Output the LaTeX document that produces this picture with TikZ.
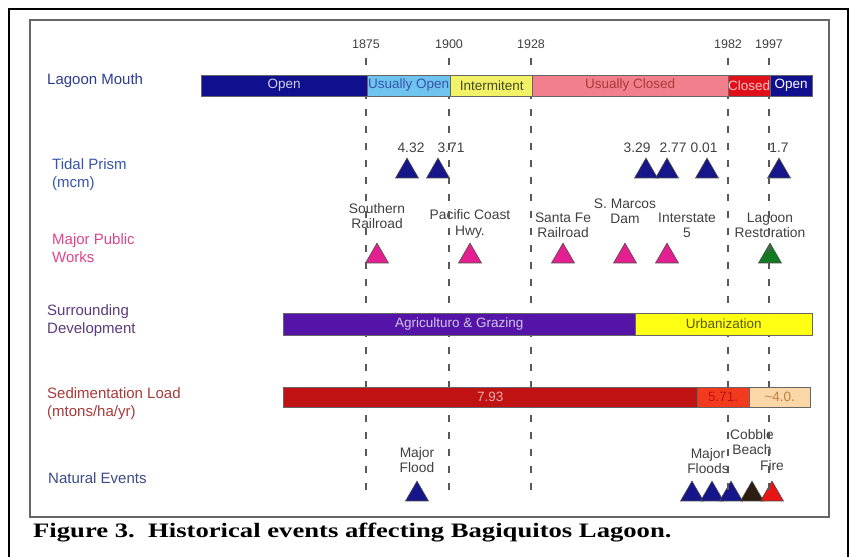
\documentclass[tikz,border=0pt]{standalone}
\usepackage{fontspec}
\setmainfont{Liberation Sans}
\newfontfamily\capfont[FakeStretch=1.3]{Liberation Serif}
\usepackage{tikz}
\usetikzlibrary{shapes}
\usetikzlibrary{arrows,positioning}
\definecolor{lagc}{HTML}{2C3E8C}
\definecolor{tidc}{HTML}{3556AA}
\definecolor{wrkc}{HTML}{E0448E}
\definecolor{surc}{HTML}{5B3C7E}
\definecolor{sedc}{HTML}{A83A3A}
\definecolor{natc}{HTML}{3B4A88}
\definecolor{navyb}{HTML}{10108E}
\definecolor{skyb}{HTML}{6EC3EF}
\definecolor{yelb}{HTML}{F2F266}
\definecolor{pinkb}{HTML}{F47F8C}
\definecolor{redb}{HTML}{E0101A}
\definecolor{purpb}{HTML}{5414A8}
\definecolor{urbb}{HTML}{FFFF14}
\definecolor{sedr}{HTML}{C01212}
\definecolor{sedo}{HTML}{F23A1E}
\definecolor{peach}{HTML}{FBD6A6}
\definecolor{tnavy}{HTML}{16168A}
\definecolor{tpink}{HTML}{E42090}
\definecolor{tgreen}{HTML}{127A22}
\definecolor{tbrown}{HTML}{2C1E10}
\definecolor{tred}{HTML}{E61414}
\tikzstyle{yr}=[font=\fontsize{12.5}{14}\selectfont, text=black!75, inner sep=1pt]
\tikzstyle{row}=[anchor=west, align=left, font=\fontsize{15}{18}\selectfont, inner sep=0pt]
\tikzstyle{bar}=[draw=black!60, anchor=west, inner xsep=0pt, inner ysep=0pt, minimum height=21pt, font=\fontsize{13.5}{15}\selectfont]
\tikzstyle{tri}=[regular polygon, regular polygon sides=3, minimum size=26.5pt, inner sep=0pt, outer sep=0pt, anchor=south, draw=black!70, line width=0.6pt]
\tikzstyle{lbl}=[align=center, font=\fontsize{13.8}{15.5}\selectfont, text=black!75, inner sep=1pt]
\tikzstyle{gl}=[dash pattern=on 7pt off 10pt, line width=1.3pt, draw=black!65]

\begin{document}
\begin{tikzpicture}
[x=1pt, y=1pt, node distance=6pt]
\useasboundingbox (0,0) rectangle (849,557);
\draw[line width=2pt] (9,-5) rectangle (848,548);
\draw[fill=white, draw=black!60, line width=1.2pt] (30,40) rectangle (829,537);

% row titles
\node[row, text=lagc] (mouth) at (47,476) {Lagoon Mouth};
\node[row, text=tidc] (tidal) at (52,382) {Tidal Prism\\(mcm)};
\node[row, text=wrkc] (works) at (52,309) {Major Public\\Works};
\node[row, text=surc] (surr) at (47,236) {Surrounding\\Development};
\node[row, text=sedc] (sed) at (47,153) {Sedimentation Load\\(mtons/ha/yr)};
\node[row, text=natc] (nat) at (48,79) {Natural Events};

% years
\coordinate (top) at (0,499);
\coordinate (bot) at (0,57);
\foreach \yr/\xx in {1875/366, 1900/449, 1928/531, 1982/728, 1997/769}
  \node[yr] (y\yr) at (\xx,513) {\yr};

% tidal prism
\node[tri, fill=tnavy] (t1) at (407,379) {};
\node[tri, fill=tnavy] (t2) at (438,379) {};
\node[tri, fill=tnavy] (t3) at (646,379) {};
\node[tri, fill=tnavy] (t4) at (667,379) {};
\node[tri, fill=tnavy] (t5) at (707,379) {};
\node[tri, fill=tnavy] (t6) at (779,379) {};
\node[lbl, above=4pt of t1, xshift=4pt] {4.32};
\node[lbl, above=4pt of t2, xshift=13pt] {3.71};
\node[lbl, above=4pt of t3, xshift=-9pt] {3.29};
\node[lbl, above=4pt of t4, xshift=6pt] {2.77};
\node[lbl, above=4pt of t5, xshift=-3pt] {0.01};
\node[lbl, above=4pt of t6] {1.7};

% public works
\node[tri, fill=tpink] (w1) at (377,294) {};
\node[tri, fill=tpink] (w2) at (470,294) {};
\node[tri, fill=tpink] (w3) at (563,294) {};
\node[tri, fill=tpink] (w4) at (625,294) {};
\node[tri, fill=tpink] (w5) at (667,294) {};
\node[tri, fill=tgreen] (w6) at (770,294) {};
\node[lbl, above=13pt of w1] {Southern\\Railroad};
\node[lbl, above=4pt of w2] {Pacific Coast\\Hwy.};
\node[lbl, above=4pt of w3] {Santa Fe\\Railroad};
\node[lbl, above=18pt of w4] {S. Marcos\\Dam};
\node[lbl, above=4pt of w5, xshift=20pt] {Interstate\\5};
\node[lbl, above=4pt of w6] {Lagoon\\Restoration};

% natural events
\node[tri, fill=tnavy] (n1) at (417,56) {};
\node[tri, fill=tnavy] (n2) at (692,56) {};
\node[tri, fill=tnavy] (n3) at (712,56) {};
\node[tri, fill=tnavy] (n4) at (731,56) {};
\node[tri, fill=tbrown] (n5) at (752,56) {};
\node[tri, fill=tred] (n6) at (772,56) {};
\node[lbl, above=7pt of n1] {Major\\Flood};
\node[lbl, above=6pt of n3, xshift=-4pt] {Major\\Floods};
\node[lbl, above=25pt of n5] {Cobble\\Beach};
\node[lbl, above=9pt of n6] {Fire};

% year guides
\foreach \yr in {1875,1900,1928,1982,1997}
  \draw[gl] (y\yr |- top) -- (y\yr |- bot);

% lagoon mouth
\node[bar, fill=navyb, text=navyb!20!white, minimum width=166pt] (m1) at (201,471.5) {Open};
\node[bar, fill=skyb, text=tidc, minimum width=83pt] (m2) at (367,471.5) {Usually Open};
\node[bar, fill=yelb, text=black!70!yelb, minimum width=83pt] (m3) at (450,471.5) {Intermitent};
\node[bar, fill=pinkb, text=sedc, minimum width=196pt] (m4) at (532,471.5) {Usually Closed};
\node[bar, fill=redb, text=pink, minimum width=42pt] (m5) at (728,471.5) {Closed};
\node[bar, fill=navyb, text=white, minimum width=42pt] (m6) at (770,471.5) {Open};

% surrounding development
\node[bar, fill=purpb, text=purpb!25!white, minimum width=352pt, minimum height=22pt] (d1) at (283,233) {Agriculturo \& Grazing};
\node[bar, fill=urbb, text=black!65!urbb, minimum width=177pt, minimum height=22pt] (d2) at (635,233) {Urbanization};

% sedimentation load
\node[bar, fill=sedr, text=sedr!35!white, minimum width=414pt, minimum height=20pt] (s1) at (283,160) {7.93};
\node[bar, fill=sedo, text=sedr, minimum width=52pt, minimum height=20pt] (s2) at (697,160) {5.71.};
\node[bar, fill=peach, text=brown, minimum width=61pt, minimum height=20pt] (s3) at (749,160) {\textasciitilde 4.0.};

% caption
\node[anchor=base west, inner sep=0pt, font=\capfont\bfseries\fontsize{20.5}{24}\selectfont] (cap) at (33,19) {Figure 3.\ \ Historical events affecting Bagiquitos Lagoon.};
\end{tikzpicture}
\end{document}
